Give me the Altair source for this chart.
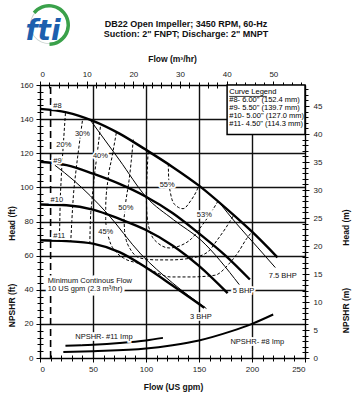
import altair as alt
import pandas as pd

W, H = 265, 273
GPM_MAX, FT_MAX = 250, 160
M3H_MAX = GPM_MAX / 4.4029
M_MAX = FT_MAX / 3.2808
FONT = "Liberation Sans"

# ---------------- data (flow in US gpm, head in ft) ----------------
imp8_q = [0, 25, 50, 75, 100, 125, 150, 175, 200, 224]
imp8_h = [146, 144, 139, 131.5, 122, 112, 101, 88, 74, 59]
imp9_q = [0, 25, 50, 75, 100, 125, 150, 175, 198]
imp9_h = [115, 113, 108, 102, 94.5, 85, 73, 60, 46]
imp10_q = [0, 25, 50, 75, 100, 125, 150, 177]
imp10_h = [90, 89.5, 87, 81.5, 75, 66, 54, 38]
imp11_q = [0, 25, 50, 75, 100, 125, 155]
imp11_h = [69, 68.5, 67, 62, 53, 42.5, 29.5]

bhp3_q = [14, 32, 63, 95, 125, 157]
bhp3_h = [113, 104, 85, 61, 44, 29]
bhp5_q = [48, 75, 100, 126, 152, 188]
bhp5_h = [139, 116, 94.5, 81, 69, 43]
bhp75_q = [168, 185, 205, 222]
bhp75_h = [92, 79, 65, 53]

eff20_q = [24, 22, 20, 19, 18.5, 18]
eff20_h = [143.5, 125, 105, 90, 75, 68.5]
eff30_q = [40, 37, 34, 31.5, 30, 29]
eff30_h = [139, 125, 110, 95, 80, 68]
eff40_q = [57, 54, 51, 49, 47.5, 47]
eff40_h = [135.5, 120, 105, 92, 80, 67]
eff45_q = [72, 68, 64, 62, 62, 65, 72, 79, 95, 110, 123, 142, 165, 178, 187, 195, 200]
eff45_h = [132, 118, 104, 90, 80, 70, 62, 58.5, 55, 50, 47.5, 47.5, 48.5, 55, 62, 70, 74]
eff50_q = [88, 86, 84, 81, 79, 80, 85, 95, 110, 123, 142, 158, 167, 175, 183]
eff50_h = [128, 115, 104, 92, 82, 73, 64, 58.5, 57.5, 57.5, 58.5, 62, 69, 76, 84]
eff53_q = [102, 101, 100, 101, 104, 110, 122, 133, 143, 152, 160, 168]
eff53_h = [121, 108, 95, 83, 74, 68, 64.5, 66, 70, 77, 84, 92]
eff55_q = [121, 121.5, 123, 127, 135, 142, 147, 150]
eff55_h = [114, 104, 97, 90, 87.5, 92, 97, 101]

npsh8_q = [22, 50, 100, 125, 150, 180, 200, 220]
npsh8_h = [3.5, 4, 5.5, 7.5, 10.3, 15.6, 20, 25.5]
npsh11_q = [24, 50, 75, 100, 116]
npsh11_h = [7.2, 7.8, 8.8, 10.3, 11.8]

min_flow_gpm = 10

eff_labels = ["20%", "30%", "40%", "45%", "50%", "53%", "55%"]
eff_label_q = [22.5, 40, 57, 62, 81, 155, 120]
eff_label_h = [124.7, 131.2, 118.3, 73.7, 87.7, 83.8, 101.3]

imp_labels = ["#8", "#9", "#10", "#11"]
imp_label_q = [12.5, 12.5, 10, 12.5]
imp_label_h = [147.5, 115.5, 92.6, 71.5]

misc_labels = ["7.5 BHP", "5 BHP", "3 BHP", "NPSHR- #11 Imp", "NPSHR- #8 Imp"]
misc_label_q = [229, 192, 151.7, 60.3, 205]
misc_label_h = [48.1, 39.5, 24, 12.6, 9.3]

minflow_lines = ["Minimum Continous Flow", "10 US gpm (2.3 m\u00b3/hr)"]
minflow_q = [7.4, 7.4]
minflow_h = [45.2, 40.3]

legend_title = "Curve Legend"
legend_lines = ['#8- 6.00" (152.4 mm)', '#9- 5.50" (139.7 mm)',
                '#10- 5.00" (127.0 mm)', '#11- 4.50" (114.3 mm)']
legend_q = 178.5
legend_h = [155.9, 151.4, 146.7, 142.0, 137.1]
legend_box_q = [176.5, 250]
legend_box_h = [131, 160]

gpm_major = list(range(0, 251, 50))
gpm_minor = list(range(0, 251, 10))
ft_major = list(range(0, 161, 20))
ft_minor = list(range(0, 161, 4))
m3h_major = list(range(0, 51, 10))
m3h_minor = list(range(0, 57, 2))
m_major = list(range(0, 46, 5))
m_minor = list(range(0, 49, 1))


def series_df(groups):
    rows = []
    for name, qs, hs in groups:
        for i, (q, h) in enumerate(zip(qs, hs)):
            rows.append({"s": name, "o": i, "q": q, "h": h})
    return pd.DataFrame(rows)


imp_df = series_df([("#8", imp8_q, imp8_h), ("#9", imp9_q, imp9_h),
                    ("#10", imp10_q, imp10_h), ("#11", imp11_q, imp11_h)])
bhp_df = series_df([("3", bhp3_q, bhp3_h), ("5", bhp5_q, bhp5_h), ("7.5", bhp75_q, bhp75_h)])
eff_df = series_df([("20", eff20_q, eff20_h), ("30", eff30_q, eff30_h), ("40", eff40_q, eff40_h),
                    ("45", eff45_q, eff45_h), ("50", eff50_q, eff50_h), ("53", eff53_q, eff53_h),
                    ("55", eff55_q, eff55_h)])
npsh_df = series_df([("8", npsh8_q, npsh8_h), ("11", npsh11_q, npsh11_h)])

XS = alt.Scale(domain=[0, GPM_MAX], nice=False, zero=False)
YS = alt.Scale(domain=[0, FT_MAX], nice=False, zero=False)


def X(field="q"):
    return alt.X(f"{field}:Q", scale=XS, axis=None)


def Y(field="h"):
    return alt.Y(f"{field}:Q", scale=YS, axis=None)


def lines(df, width, dash=None, interp="monotone"):
    kw = dict(strokeWidth=width, color="#000", interpolate=interp)
    if dash:
        kw["strokeDash"] = dash
    return alt.Chart(df).mark_line(**kw).encode(
        x=X(), y=Y(), detail="s:N", order="o:Q")


def halo_text(df, size, align="center", weight="normal", halo=3.5):
    base = dict(font=FONT, fontSize=size, align=align, baseline="middle", fontWeight=weight)
    back = alt.Chart(df).mark_text(stroke="white", strokeWidth=halo, fill="white", **base).encode(
        x=X(), y=Y(), text="t:N")
    front = alt.Chart(df).mark_text(color="#111", **base).encode(x=X(), y=Y(), text="t:N")
    return [back, front]


def tdf(texts, qs, hs):
    return pd.DataFrame({"t": texts, "q": qs, "h": hs})


axis_common = dict(labelFont=FONT, labelFontSize=8, labelColor="#222", tickColor="#000",
                   domainColor="#000", titleFont=FONT, titleFontSize=8.5,
                   titleFontWeight="bold", titleColor="#111")
GRID = dict(grid=True, gridColor="#111", gridWidth=1.4)

dq = pd.DataFrame({"q": [0, GPM_MAX], "h": [0, FT_MAX], "m3": [0, M3H_MAX], "m": [0, M_MAX]})


def axis_layer(channel, field, dom, **ax):
    sc = alt.Scale(domain=dom, nice=False, zero=False)
    if channel == "x":
        enc = {"x": alt.X(f"{field}:Q", scale=sc, axis=alt.Axis(**axis_common, **ax))}
    else:
        enc = {"y": alt.Y(f"{field}:Q", scale=sc, axis=alt.Axis(**axis_common, **ax))}
    return alt.Chart(dq).mark_point(opacity=0).encode(**enc)


def minor(channel, field, dom, orient, values, title="", **extra):
    out = [axis_layer(channel, field, dom, orient=orient, values=values, tickSize=3,
                      labels=False, grid=False, domain=False, title=title, **extra),
           axis_layer(channel, field, dom, orient=orient, values=values, tickSize=3,
                      labels=False, grid=False, domain=False, title="", offset=-3)]
    return out


axes = [
    axis_layer("x", "q", [0, GPM_MAX], orient="bottom", values=gpm_major, tickSize=4,
               labelPadding=3, title="Flow (US gpm)", titleX=133, titleY=24, **GRID),
    axis_layer("y", "h", [0, FT_MAX], orient="left", values=ft_major, tickSize=4,
               labelPadding=3, title="Head (ft)", titleX=-29, titleY=138, titleAngle=270,
               titleAlign="center", titleBaseline="middle", **GRID),
    axis_layer("x", "m3", [0, M3H_MAX], orient="top", values=m3h_major, tickSize=4,
               labelPadding=3, grid=False, title="Flow (m\u00b3/hr)", titleX=132, titleY=-27,
               titleBaseline="middle"),
    axis_layer("y", "m", [0, M_MAX], orient="right", values=m_major, tickSize=4,
               labelPadding=4, grid=False, title="Head (m)", titleX=40, titleY=142,
               titleAngle=270, titleAlign="center", titleBaseline="middle"),
]
axes += minor("x", "q", [0, GPM_MAX], "bottom", gpm_minor)
axes += minor("y", "h", [0, FT_MAX], "left", ft_minor, title="NPSHR (ft)", titleX=-29,
              titleY=220, titleAngle=270, titleAlign="center", titleBaseline="middle")
axes += minor("x", "m3", [0, M3H_MAX], "top", m3h_minor)
axes += minor("y", "m", [0, M_MAX], "right", m_minor, title="NPSHR (m)", titleX=40,
              titleY=225, titleAngle=270, titleAlign="center", titleBaseline="middle")

minflow_rule = alt.Chart(pd.DataFrame({"q": [min_flow_gpm], "h": [0], "h2": [FT_MAX]})).mark_rule(
    strokeDash=[7, 4], strokeWidth=1.6, color="#000").encode(x=X(), y=Y(), y2="h2:Q")

legend_box = alt.Chart(pd.DataFrame({"q": [legend_box_q[0]], "q2": [legend_box_q[1]],
                                     "h": [legend_box_h[0]], "h2": [legend_box_h[1]]})).mark_rect(
    fill="white", stroke="#000", strokeWidth=1.5).encode(x=X(), x2="q2:Q", y=Y(), y2="h2:Q")

legend_df = tdf([legend_title] + legend_lines, [legend_q] * 5, legend_h)
legend_text = alt.Chart(legend_df).mark_text(font=FONT, fontSize=7.5, align="left",
                                             baseline="middle", color="#000").encode(
    x=X(), y=Y(), text="t:N")
underline = alt.Chart(pd.DataFrame({"q": [legend_q], "q2": [legend_q + 35.5],
                                    "h": [legend_h[0] - 2.6]})).mark_rule(
    strokeWidth=0.8, color="#111").encode(x=X(), x2="q2:Q", y=Y())

# header / logo (outside plot area, positions relative to plot origin)
title_df = pd.DataFrame({"t": ["DB22 Open Impeller; 3450 RPM, 60-Hz",
                               "Suction: 2\" FNPT; Discharge: 2\" MNPT"], "y": [-61, -51]})
title_text = alt.Chart(title_df).mark_text(font=FONT, fontSize=9, fontWeight="bold",
                                           align="center", baseline="middle", color="#111").encode(
    x=alt.value(146), y=alt.Y("y:Q", scale=None), text="t:N")

ring = alt.Chart(pd.DataFrame({"a": [1]})).mark_arc(
    radius=21, radius2=17.5, theta=5.4, theta2=9.4, color="#3aa14a").encode(
    x=alt.value(9), y=alt.value(-60))
ring2 = alt.Chart(pd.DataFrame({"a": [1]})).mark_arc(
    radius=19, radius2=18.2, theta=0.2, theta2=6.0, color="#c9d3cf").encode(
    x=alt.value(9), y=alt.value(-60))
logo = alt.Chart(pd.DataFrame({"t": ["fti"]})).mark_text(
    font="DejaVu Sans", fontSize=28, fontWeight="bold", fontStyle="italic",
    color="#1d5fae", align="center", baseline="middle").encode(
    x=alt.value(3), y=alt.value(-53), text="t:N")

layers = axes + [
    minflow_rule,
    lines(eff_df, 1.0, dash=[3, 2]),
    lines(bhp_df, 1.0),
    lines(imp_df, 2.4),
    lines(npsh_df, 2.0),
]
layers += halo_text(tdf(eff_labels, eff_label_q, eff_label_h), 7.5)
layers += halo_text(tdf(imp_labels, imp_label_q, imp_label_h), 7.5, align="left")
layers += halo_text(tdf(misc_labels, misc_label_q, misc_label_h), 7.5)
layers += halo_text(tdf(minflow_lines, minflow_q, minflow_h), 7.5, align="left", halo=5)
layers += [legend_box, legend_text, underline, title_text, ring2, ring, logo]

chart = alt.layer(*layers).resolve_scale(x="independent", y="independent").resolve_axis(
    x="independent", y="independent").properties(
    width=W, height=H,
    autosize=alt.AutoSizeParams(type="none"),
    padding={"left": 40, "top": 85, "right": 52, "bottom": 42},
).configure_view(stroke=None).configure(background="white")

chart.save("out.html", embed_options={"renderer": "svg", "actions": False})
